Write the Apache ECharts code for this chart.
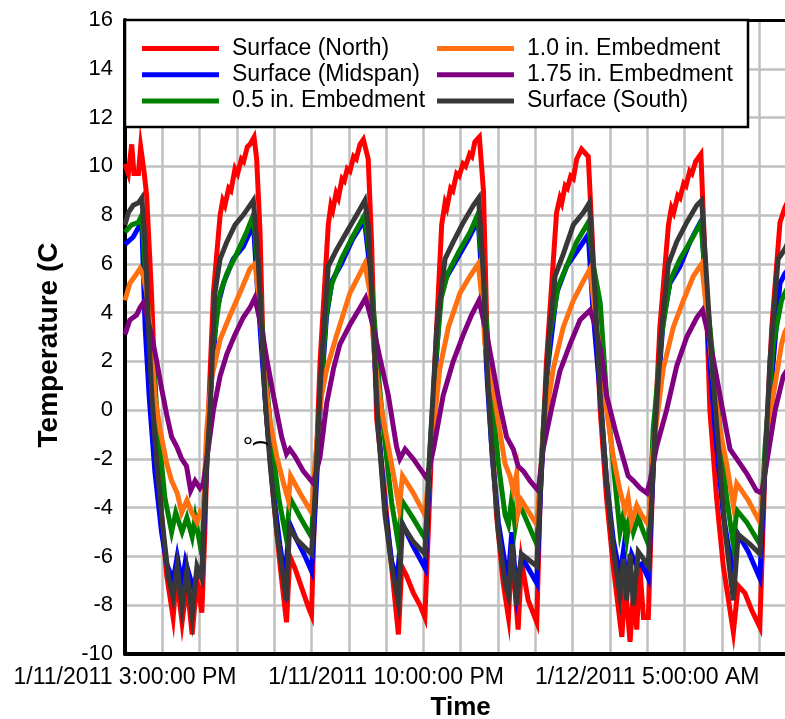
<!DOCTYPE html>
<html>
<head>
<meta charset="utf-8">
<script src="https://cdn.jsdelivr.net/npm/echarts@6/dist/echarts.min.js"></script>
<style>
html,body{margin:0;padding:0;background:#fff;overflow:hidden;}
#chart{width:785px;height:719px;}
</style>
</head>
<body>
<div id="chart"></div>
<script>
// x values are hours after 1/11/2011 3:00:00 PM
const tickHours = [0, 7, 14];
const tickLabels = ['1/11/2011 3:00:00 PM', '1/11/2011 10:00:00 PM', '1/12/2011 5:00:00 AM'];
const seriesNames = ['Surface (North)', 'Surface (Midspan)', '0.5 in. Embedment', '1.0 in. Embedment', '1.75 in. Embedment', 'Surface (South)'];

const surfaceNorth = [[0,10.1],[0.09,9.7],[0.18,10.9],[0.24,9.7],[0.36,9.7],[0.42,10.8],[0.51,9.8],[0.58,8.8],[0.71,4.8],[0.85,-0.8],[0.98,-4.3],[1.12,-6.8],[1.29,-8.5],[1.38,-6.8],[1.53,-8.7],[1.66,-7.1],[1.80,-9.2],[1.93,-7.0],[2.06,-8.3],[2.14,-5.0],[2.23,-0.4],[2.37,4.8],[2.55,8.0],[2.62,8.6],[2.68,8.4],[2.78,9.1],[2.84,9.0],[2.95,9.9],[3.02,9.7],[3.12,10.3],[3.18,10.2],[3.28,10.8],[3.35,10.9],[3.46,11.2],
[3.53,10.3],[3.62,7.3],[3.71,2.0],[3.78,0],[3.98,-3.6],[4.16,-6.4],[4.33,-8.7],[4.42,-6.0],[4.56,-6.5],[4.74,-7.3],[4.92,-8.1],[5.0,-8.4],[5.09,-3.6],[5.23,2.0],[5.45,7.6],[5.52,8.4],[5.57,8.2],[5.66,8.9],[5.72,8.7],[5.82,9.5],[5.88,9.4],[5.96,9.9],[6.03,9.8],[6.13,10.4],[6.20,10.3],[6.30,10.9],[6.39,11.1],
[6.52,10.3],[6.61,6.9],[6.70,2.0],[6.75,-0.4],[6.93,-2.9],[7.10,-5.7],[7.33,-9.2],[7.42,-6.4],[7.55,-6.8],[7.73,-7.5],[7.91,-8.0],[8.04,-8.5],[8.13,-5.0],[8.31,2.0],[8.49,7.6],[8.58,8.5],[8.63,8.3],[8.73,9.1],[8.79,9.0],[8.89,9.7],[8.96,9.6],[9.06,10.1],[9.13,10.0],[9.24,10.5],[9.30,10.4],[9.38,11.0],[9.50,11.2],
[9.61,9.0],[9.70,3.4],[9.83,-0.8],[9.96,-4.3],[10.14,-7.1],[10.28,-8.5],[10.37,-5.7],[10.54,-9.0],[10.63,-6.2],[10.81,-7.8],[11.04,-8.7],[11.13,-3.6],[11.30,2.0],[11.57,8.1],[11.66,8.7],[11.71,8.5],[11.80,9.2],[11.86,9.1],[11.95,9.6],[12.02,9.5],[12.11,10.3],[12.24,10.7],[12.42,10.4],[12.51,7.6],[12.74,0],[12.91,-3.6],[13.09,-6.4],[13.32,-9.3],[13.41,-7.1],[13.54,-9.5],[13.63,-7.5],[13.72,-9.0],[13.80,-6.4],[13.90,-8.5],[14.03,-8.5],[14.16,-2.2],[14.34,3.4],[14.57,7.6],[14.65,8.3],[14.71,8.1],[14.82,8.8],[14.88,8.7],[14.98,9.3],[15.04,9.2],[15.14,9.8],[15.20,9.7],[15.30,10.2],[15.44,10.5],[15.55,6.2],[15.68,0],[15.86,-3.6],[16.04,-6.4],[16.31,-9.1],[16.44,-7.2],[16.62,-7.5],[16.80,-8.2],[17.02,-8.9],[17.16,-2.2],[17.34,3.4],[17.56,7.7],[17.69,8.3],[17.9,9.0]];

const surfaceMidspan = [[0,6.8],[0.22,7.1],[0.40,7.6],[0.45,7.7],[0.54,3.4],[0.65,0.5],[0.80,-2.5],[0.98,-5.0],[1.12,-6.3],[1.29,-7.0],[1.40,-6.0],[1.53,-7.1],[1.62,-6.2],[1.75,-6.9],[1.83,-7.3],[1.95,-6.6],[2.06,-6.8],[2.14,-4.0],[2.23,-0.7],[2.46,4.1],[2.64,5.2],[2.90,6.2],[3.17,6.7],[3.35,7.3],[3.44,7.7],
[3.55,5.0],[3.66,2.5],[3.78,0],[3.95,-3.0],[4.15,-5.5],[4.30,-7.0],[4.40,-4.6],[4.60,-5.3],[4.80,-5.9],[5.00,-6.6],[5.10,-4.0],[5.25,0.5],[5.40,3.8],[5.55,5.3],[5.80,6.0],[6.10,7.0],[6.42,7.8],
[6.55,6.0],[6.66,3.0],[6.80,-0.8],[6.97,-4.0],[7.15,-6.2],[7.30,-7.0],[7.42,-4.6],[7.70,-5.5],[8.05,-6.5],[8.15,-3.0],[8.30,1.0],[8.45,4.5],[8.60,5.4],[8.90,6.2],[9.20,7.0],[9.47,7.8],
[9.60,4.5],[9.72,1.0],[9.85,-2.0],[10.01,-4.6],[10.19,-6.3],[10.28,-6.8],[10.37,-5.0],[10.50,-7.5],[10.63,-6.0],[11.04,-7.1],[11.15,-3.0],[11.30,1.3],[11.57,4.8],[11.84,5.9],[12.20,6.7],[12.42,7.2],[12.55,4.0],[12.74,0.6],[12.91,-2.9],[13.09,-5.3],[13.27,-6.8],[13.36,-5.8],[13.45,-7.1],[13.58,-5.9],[13.72,-6.4],[13.85,-6.3],[14.03,-6.9],[14.21,-0.8],[14.43,3.7],[14.61,5.2],[14.88,5.9],[15.15,6.9],[15.42,7.7],[15.46,7.8],[15.64,2.7],[15.82,-0.8],[16.04,-4.3],[16.26,-6.4],[16.40,-5.0],[16.71,-5.8],[17.02,-6.9],[17.16,-2.2],[17.38,2.0],[17.56,5.2],[17.69,5.6],[17.9,6.0]];

const embed05 = [[0,7.3],[0.18,7.6],[0.36,7.7],[0.45,8.0],[0.58,4.8],[0.76,2.0],[0.89,-0.8],[1.07,-3.6],[1.25,-5.0],[1.36,-4.2],[1.53,-5.0],[1.66,-4.4],[1.80,-5.2],[1.88,-4.4],[2.01,-5.5],[2.09,-5.0],[2.19,-1.5],[2.37,2.7],[2.55,4.8],[2.73,5.6],[2.99,6.4],[3.26,7.3],[3.44,8.0],
[3.55,6.0],[3.66,3.8],[3.80,1.0],[3.95,-1.5],[4.12,-3.6],[4.33,-5.3],[4.42,-3.6],[4.70,-4.4],[5.00,-5.2],[5.10,-2.5],[5.25,1.0],[5.40,4.0],[5.55,5.2],[5.80,6.2],[6.10,7.1],[6.42,8.0],
[6.55,6.5],[6.68,3.8],[6.82,1.0],[6.98,-1.5],[7.15,-3.8],[7.33,-5.5],[7.42,-3.7],[7.75,-4.5],[8.06,-5.3],[8.16,-2.0],[8.30,1.5],[8.48,4.6],[8.65,5.6],[8.95,6.5],[9.25,7.3],[9.45,8.0],
[9.58,6.0],[9.70,3.4],[9.83,0.6],[10.01,-2.2],[10.19,-4.3],[10.28,-4.7],[10.37,-3.6],[10.46,-4.8],[10.56,-3.8],[11.04,-5.5],[11.21,-0.8],[11.39,3.1],[11.62,5.1],[11.84,5.9],[12.11,6.9],[12.42,7.7],[12.55,6.0],[12.74,4.4],[12.91,0.6],[13.09,-2.2],[13.27,-5.0],[13.36,-4.3],[13.45,-5.3],[13.54,-4.3],[13.63,-5.0],[13.76,-4.4],[13.90,-5.0],[14.03,-5.5],[14.16,-0.8],[14.39,3.1],[14.61,5.3],[14.88,6.2],[15.15,6.9],[15.44,7.7],[15.59,4.8],[15.77,2.0],[15.95,-0.8],[16.13,-3.6],[16.31,-5.5],[16.40,-4.1],[16.67,-4.6],[17.02,-5.5],[17.16,-1.5],[17.38,2.7],[17.60,4.5],[17.69,4.8],[17.9,5.4]];

const embed10 = [[0,4.5],[0.13,5.2],[0.27,5.5],[0.40,5.8],[0.49,5.5],[0.58,4.8],[0.67,3.4],[0.80,0.6],[0.94,-0.8],[1.12,-2.2],[1.25,-2.9],[1.40,-3.4],[1.52,-4.2],[1.66,-3.7],[1.79,-4.2],[1.93,-4.6],[2.01,-4.2],[2.09,-4.4],[2.19,-0.8],[2.32,1.3],[2.55,2.9],[2.82,3.9],[3.08,4.8],[3.35,5.8],[3.49,6.0],
[3.62,4.1],[3.75,1.3],[3.89,-0.5],[4.07,-1.9],[4.25,-3.0],[4.38,-3.7],[4.44,-2.7],[4.69,-3.4],[5.00,-4.2],[5.09,-2.2],[5.27,0.6],[5.41,1.7],[5.68,3.1],[6.03,4.8],[6.43,6.0],
[6.57,4.8],[6.70,2.0],[6.88,0],[7.06,-1.5],[7.24,-3.0],[7.35,-4.0],[7.44,-2.7],[7.73,-3.4],[8.04,-4.3],[8.22,-1.5],[8.44,1.7],[8.67,3.4],[8.98,4.8],[9.25,5.5],[9.47,6.0],
[9.58,4.4],[9.65,2.7],[9.83,1.3],[10.01,-0.5],[10.19,-2.2],[10.32,-2.7],[10.41,-3.3],[10.50,-2.6],[10.54,-4.2],[10.63,-3.7],[11.04,-4.7],[11.21,-1.1],[11.48,1.7],[11.75,3.4],[12.02,4.5],[12.29,5.3],[12.47,5.8],[12.60,4.0],[12.74,2.3],[12.91,0],[13.09,-1.9],[13.27,-3.3],[13.41,-4.1],[13.49,-3.6],[13.58,-4.6],[13.72,-3.9],[13.85,-4.3],[14.03,-4.7],[14.16,-1.6],[14.43,1.7],[14.70,3.4],[14.97,4.5],[15.24,5.5],[15.46,6.0],[15.59,4.1],[15.77,1.3],[15.95,-0.8],[16.13,-2.2],[16.31,-3.9],[16.40,-3.0],[16.71,-3.7],[17.02,-4.6],[17.16,-2.2],[17.38,0.6],[17.60,2.7],[17.69,3.2],[17.9,3.8]];

const embed175 = [[0,3.1],[0.13,3.7],[0.22,3.8],[0.31,3.9],[0.40,4.2],[0.49,4.4],[0.58,3.9],[0.71,3.1],[0.85,2.0],[0.98,0.9],[1.12,-0.2],[1.25,-1.1],[1.39,-1.5],[1.52,-2.0],[1.65,-2.3],[1.76,-3.3],[1.88,-2.9],[2.01,-3.2],[2.10,-3.0],[2.23,-1.6],[2.37,0],[2.55,1.4],[2.73,2.3],[2.95,3.1],[3.17,3.8],[3.35,4.2],[3.48,4.6],
[3.66,3.4],[3.80,2.1],[3.98,0.6],[4.20,-1.1],[4.33,-1.8],[4.42,-1.6],[4.56,-1.9],[4.78,-2.5],[5.05,-3.0],[5.23,-1.9],[5.41,0.3],[5.59,1.7],[5.76,2.7],[6.03,3.5],[6.30,4.2],[6.45,4.6],
[6.66,3.4],[6.84,2.1],[7.06,0.6],[7.28,-1.5],[7.37,-2.0],[7.51,-1.6],[7.73,-2.0],[8.09,-2.8],[8.27,-1.6],[8.53,0.6],[8.80,2.0],[9.07,3.1],[9.29,3.9],[9.49,4.5],
[9.70,3.1],[9.87,1.7],[10.05,0.2],[10.23,-1.1],[10.41,-1.6],[10.54,-2.3],[10.68,-2.5],[10.86,-2.9],[11.08,-3.3],[11.21,-1.6],[11.44,0.1],[11.66,1.6],[11.93,2.7],[12.20,3.7],[12.47,4.1],[12.60,3.5],[12.78,2.2],[12.91,0.6],[13.14,-0.8],[13.36,-2.0],[13.49,-2.7],[13.63,-2.9],[13.81,-3.2],[13.99,-3.4],[14.08,-2.9],[14.25,-1.5],[14.52,0],[14.79,1.8],[15.06,3.0],[15.33,3.8],[15.48,4.1],[15.64,3.1],[15.82,1.7],[16.0,0.2],[16.22,-1.6],[16.40,-2.0],[16.67,-2.6],[16.93,-3.3],[17.07,-3.4],[17.20,-2.2],[17.43,0],[17.65,1.4],[17.9,2.0]];

const surfaceSouth = [[0,7.6],[0.09,8.1],[0.22,8.4],[0.36,8.5],[0.45,8.7],[0.54,6.9],[0.63,3.4],[0.72,0.6],[0.85,-2.2],[1.03,-5.0],[1.16,-6.8],[1.29,-7.7],[1.40,-6.4],[1.53,-8.1],[1.66,-6.6],[1.80,-8.4],[1.93,-6.4],[2.06,-6.9],[2.14,-3.6],[2.28,0],[2.41,4.8],[2.55,6.2],[2.73,6.9],[2.95,7.6],[3.17,8.0],[3.35,8.4],[3.44,8.6],
[3.57,6.2],[3.66,3.4],[3.75,0.6],[3.89,-2.2],[4.07,-5.0],[4.33,-7.8],[4.41,-4.8],[4.60,-5.3],[5.0,-5.9],[5.09,-3.6],[5.27,2.0],[5.45,5.9],[5.68,6.6],[5.94,7.3],[6.21,8.0],[6.43,8.6],
[6.52,7.6],[6.66,3.4],[6.79,-0.8],[6.97,-4.3],[7.15,-6.4],[7.33,-7.9],[7.44,-4.7],[7.73,-5.4],[8.04,-5.9],[8.18,-1.5],[8.36,3.4],[8.58,6.2],[8.80,6.9],[9.07,7.7],[9.34,8.4],[9.48,8.7],
[9.61,5.5],[9.70,2.0],[9.83,-1.5],[10.01,-5.0],[10.19,-7.1],[10.28,-7.6],[10.38,-5.5],[10.50,-8.0],[10.63,-5.9],[11.04,-6.4],[11.17,-2.2],[11.35,2.7],[11.53,5.5],[11.75,6.4],[12.02,7.6],[12.29,8.1],[12.45,8.5],[12.60,4.8],[12.74,0.6],[12.91,-2.9],[13.09,-5.7],[13.27,-7.6],[13.36,-6.1],[13.45,-7.8],[13.54,-5.9],[13.63,-8.0],[13.76,-5.8],[13.90,-6.1],[14.03,-6.4],[14.21,-0.8],[14.39,3.4],[14.57,6.0],[14.79,6.9],[15.06,7.7],[15.33,8.4],[15.46,8.6],[15.59,5.5],[15.73,2.0],[15.91,-1.5],[16.09,-5.0],[16.31,-7.8],[16.44,-5.1],[16.76,-5.5],[17.02,-5.9],[17.16,-2.2],[17.29,2.0],[17.51,6.2],[17.69,6.6],[17.9,7.3]];

const seriesData = [surfaceNorth, surfaceMidspan, embed05, embed10, embed175, surfaceSouth];
const seriesColors = ['#ff0000', '#0000ff', '#008000', '#ff7010', '#800080', '#383838'];

const FONT = '"Liberation Sans", Arial, sans-serif';
const chart = echarts.init(document.getElementById('chart'), null, {renderer: 'canvas', width: 785, height: 719});

const legendText = {fontSize: 23, fontFamily: FONT, color: '#000', lineHeight: 23, padding: [0, 0, 0, 8]};

chart.setOption({
  animation: false,
  backgroundColor: '#fff',
  grid: {left: 125, top: 20, bottom: 65, right: -11.4, containLabel: false, outerBoundsMode: 'none'},
  xAxis: [{
    type: 'value', min: 0, max: 18, interval: 1,
    name: 'Time', nameLocation: 'middle', nameGap: 41,
    nameTextStyle: {fontFamily: FONT, fontSize: 26, fontWeight: 'bold', color: '#000'},
    axisLine: {show: true, onZero: false, lineStyle: {color: '#000', width: 4}},
    axisTick: {show: false},
    axisLabel: {
      fontFamily: FONT, fontSize: 23, color: '#000', margin: 12,
      showMinLabel: true, showMaxLabel: true,
      formatter: function (v) { const i = tickHours.indexOf(Math.round(v * 1000) / 1000); return i >= 0 ? tickLabels[i] : ''; }
    },
    splitLine: {show: true, lineStyle: {color: '#c0c0c0', width: 2.5}}
  }, {
    type: 'value', min: 0, max: 18, position: 'top',
    axisLine: {show: true, onZero: false, lineStyle: {color: '#000', width: 3}},
    axisTick: {show: false}, axisLabel: {show: false}, splitLine: {show: false}
  }],
  yAxis: {
    type: 'value', min: -10, max: 16, interval: 2,
    name: 'Temperature (C', nameLocation: 'middle', nameGap: 62, nameRotate: 90,
    nameTextStyle: {fontFamily: FONT, fontSize: 28, fontWeight: 'bold', color: '#000', padding: [0, 16, 0, 0]},
    axisLine: {show: true, onZero: false, lineStyle: {color: '#000', width: 4}},
    axisTick: {show: false},
    axisLabel: {fontFamily: FONT, fontSize: 22, color: '#000', margin: 12},
    splitLine: {show: true, lineStyle: {color: '#c0c0c0', width: 2.5}}
  },
  legend: [{
    data: seriesNames.slice(0, 3), left: 142, top: 37, orient: 'vertical', padding: 0,
    itemWidth: 77, itemHeight: 5, itemGap: 3.3, icon: 'rect', selectedMode: false,
    textStyle: legendText, z: 200
  }, {
    data: seriesNames.slice(3, 6), left: 437, top: 37, orient: 'vertical', padding: 0,
    itemWidth: 77, itemHeight: 5, itemGap: 3.3, icon: 'rect', selectedMode: false,
    textStyle: legendText, z: 200
  }],
  graphic: [
    {type: 'rect', z: 150, shape: {x: 125, y: 20, width: 623, height: 107},
     style: {fill: '#fff', stroke: '#000', lineWidth: 2.5}},
    {type: 'text', z: 150, x: 248, y: 448,
     style: {text: '°', font: '26px ' + FONT, fill: '#000', align: 'center', verticalAlign: 'middle'}},
    {type: 'text', z: 150, x: 260, y: 443, rotation: Math.PI / 2,
     style: {text: ')', font: 'bold 17px ' + FONT, fill: '#000', align: 'center', verticalAlign: 'middle'}}
  ],
  series: seriesNames.map(function (name, i) {
    return {
      name: name, type: 'line', data: seriesData[i], showSymbol: false, symbol: 'none',
      color: seriesColors[i],
      lineStyle: {color: seriesColors[i], width: 5, join: 'miter'},
      z: 2 + i * 0.01
    };
  })
});
</script>
</body>
</html>
